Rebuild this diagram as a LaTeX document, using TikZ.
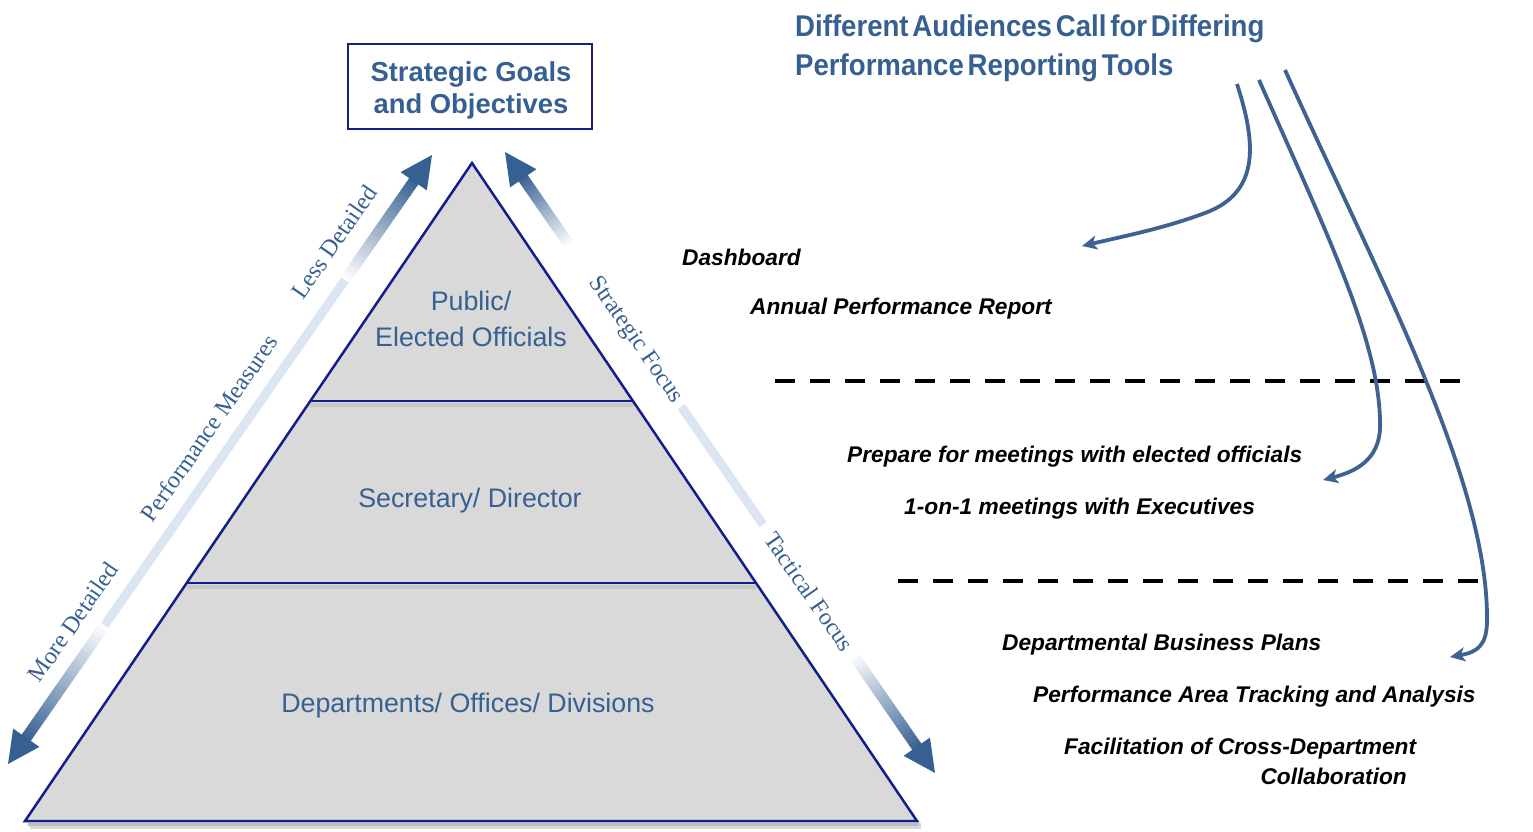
\documentclass[tikz,border=0pt]{standalone}
\usepackage{fontspec}
\setmainfont{Liberation Sans}
\newfontfamily\serifont{Liberation Serif}
\newfontfamily\titlefont[FakeStretch=0.92,WordSpace=0.5]{Liberation Sans}
\usetikzlibrary{arrows.meta,calc}
\definecolor{tblue}{RGB}{55,96,146}
\definecolor{navy}{RGB}{20,30,135}
\definecolor{pale}{RGB}{220,230,242}
\definecolor{trigray}{RGB}{217,217,217}
\definecolor{cblue}{RGB}{62,98,145}
% gradient shaft: from t0 to t1 on A--B, colour percent p0 to p1
\newcommand\gradseg[7]{%
  \foreach \k in {0,...,29}{%
    \pgfmathsetmacro\ta{#3+(#4-#3)*\k/30}%
    \pgfmathsetmacro\tb{#3+(#4-#3)*(\k+1.2)/30}%
    \pgfmathtruncatemacro\pc{#5+(#6-#5)*(\k+0.5)/30}%
    \draw[line width=#7, tblue!\pc!white] ($(#1)!\ta!(#2)$) -- ($(#1)!\tb!(#2)$);
  }}
\newcommand\bighead[3]{%
  \coordinate (hb) at ($(#1)!#3pt!(#2)$);
  \fill[tblue] (#1) -- ($(hb)!16pt!90:(#2)$) -- ($(hb)!16pt!-90:(#2)$) -- cycle;}
\begin{document}
\begin{tikzpicture}[x=1pt,y=-1pt,
  tierlabel/.style={text=tblue, font=\fontsize{26.8}{36}\selectfont, align=center, inner sep=0},
  sidelabel/.style={text=tblue, font=\serifont\fontsize{24}{26}\selectfont, inner sep=0},
  tooltext/.style={anchor=west, inner sep=0, font=\fontsize{22.7}{26}\selectfont\bfseries\itshape},
  carrow/.style={cblue, line width=3.8, -{Stealth[length=15pt,width=14pt,inset=4pt]}},
  dashline/.style={black, line width=4, dash pattern=on 20pt off 15pt},
  titletext/.style={anchor=west, inner sep=0, text=tblue, font=\titlefont\bfseries\fontsize{30}{36}\selectfont}]
\useasboundingbox (0,0) rectangle (1533,832);

% ---------- pyramid ----------
\coordinate (apex) at (472,163);
\coordinate (bl) at (25,821);
\coordinate (br) at (917,821);
\coordinate (d1l) at ($(apex)!0.3617!(bl)$);
\coordinate (d1r) at ($(apex)!0.3617!(br)$);
\coordinate (d2l) at ($(apex)!0.6383!(bl)$);
\coordinate (d2r) at ($(apex)!0.6383!(br)$);

\draw[black!15, line width=6] (30,826) -- (921,826);
\draw[black!25, line width=3] (28,824) -- (919,824);
\fill[trigray] (apex) -- (br) -- (bl) -- cycle;
\begin{scope}
  \clip (apex) -- (br) -- (bl) -- cycle;
  \draw[black!22, line width=4] ($(d1l)+(0,4)$) -- ($(d1r)+(0,4)$);
  \draw[black!22, line width=4] ($(d2l)+(0,4)$) -- ($(d2r)+(0,4)$);
\end{scope}
\draw[navy, line width=2.5] (d1l) -- (d1r);
\draw[navy, line width=2.5] (d2l) -- (d2r);
\draw[navy, line width=2.5, line join=miter] (apex) -- (br) -- (bl) -- cycle;

\node[tierlabel] (t1) at (471,319) {Public/\\Elected Officials};
\node[tierlabel] (t2) at (470,501) {Secretary/ Director};
\node[tierlabel] (t3) at (468,706) {Departments/ Offices/ Divisions};

% ---------- goals box ----------
\node[draw=navy, line width=2, fill=white, minimum width=244pt, minimum height=85pt,
      inner sep=0] (goals) at (470,86.5) {};
\node[inner sep=0, align=center, text=tblue,
      font=\fontsize{27.4}{32}\selectfont\bfseries] (goalstext) at (471,90)
      {Strategic Goals\\and Objectives};

% ---------- left double arrow ----------
\coordinate (LA) at (8,764);
\coordinate (LB) at (432,155);
\gradseg{LA}{LB}{0.040}{0.228}{100}{0}{11}
\draw[pale, line width=9] ($(LA)!0.228!(LB)$) -- ($(LA)!0.795!(LB)$);
\gradseg{LA}{LB}{0.795}{0.960}{0}{100}{11}
\bighead{LA}{LB}{32}
\bighead{LB}{LA}{32}
\node[sidelabel, rotate=55.15] (md) at (73,622) {More Detailed};
\node[sidelabel, rotate=55.15] (pm) at (209,428) {Performance Measures};
\node[sidelabel, rotate=55.15] (ld) at (334,242) {Less Detailed};

% ---------- right double arrow ----------
\coordinate (RA) at (505,152);
\coordinate (RB) at (935,773);
\gradseg{RA}{RB}{0.040}{0.150}{100}{0}{11}
\draw[pale, line width=9] ($(RA)!0.41!(RB)$) -- ($(RA)!0.60!(RB)$);
\gradseg{RA}{RB}{0.810}{0.960}{0}{100}{11}
\bighead{RA}{RB}{32}
\bighead{RB}{RA}{32}
\node[sidelabel, rotate=-55.3] (sf) at ($(RA)!0.303!(RB)$) {Strategic Focus};
\node[sidelabel, rotate=-55.3] (tf) at ($(RA)!0.708!(RB)$) {Tactical Focus};

% ---------- title ----------
\node[titletext] (title1) at (795,29) {Different Audiences Call for Differing};
\node[titletext] (title2) at (795,68) {Performance Reporting Tools};

% ---------- tools ----------
\node[tooltext] (dash) at (682,257) {Dashboard};
\node[tooltext] (apr) at (750,309) {Annual Performance Report};
\node[tooltext] (prep) at (847,457) {Prepare for meetings with elected officials};
\node[tooltext] (one) at (904,509) {1-on-1 meetings with Executives};
\node[tooltext] (dbp) at (1002,645) {Departmental Business Plans};
\node[tooltext] (pat) at (1033,697) {Performance Area Tracking and Analysis};
\node[tooltext] (fac) at (1064,749) {Facilitation of Cross-Department};
\node[tooltext, anchor=east] (col) at (1407,776) {Collaboration};

\coordinate (dl1s) at (775,381);
\coordinate (dl1e) at (1460,381);
\coordinate (dl2s) at (898,581);
\coordinate (dl2e) at (1478,581);
\draw[dashline] (dl1s) -- (dl1e);
\draw[dashline] (dl2s) -- (dl2e);

% ---------- curved arrows ----------
\coordinate (s1) at (1237,84);
\coordinate (s2) at (1259,80);
\coordinate (s3) at (1285,70);
\coordinate (e1) at (1082,246);
\coordinate (e2) at (1323,480);
\coordinate (e3) at (1450,657);
\draw[carrow] (s1) .. controls (1255,140) and (1262,192) .. (1205,213)
                   .. controls (1165,228) and (1125,236) .. (e1);
\draw[carrow] (s2) .. controls (1330,240) and (1378,340) .. (1380,420)
                   .. controls (1382,455) and (1362,470) .. (e2);
\draw[carrow] (s3) .. controls (1380,280) and (1488,480) .. (1487,620)
                   .. controls (1487,645) and (1478,652) .. (e3);
\end{tikzpicture}
\end{document}
